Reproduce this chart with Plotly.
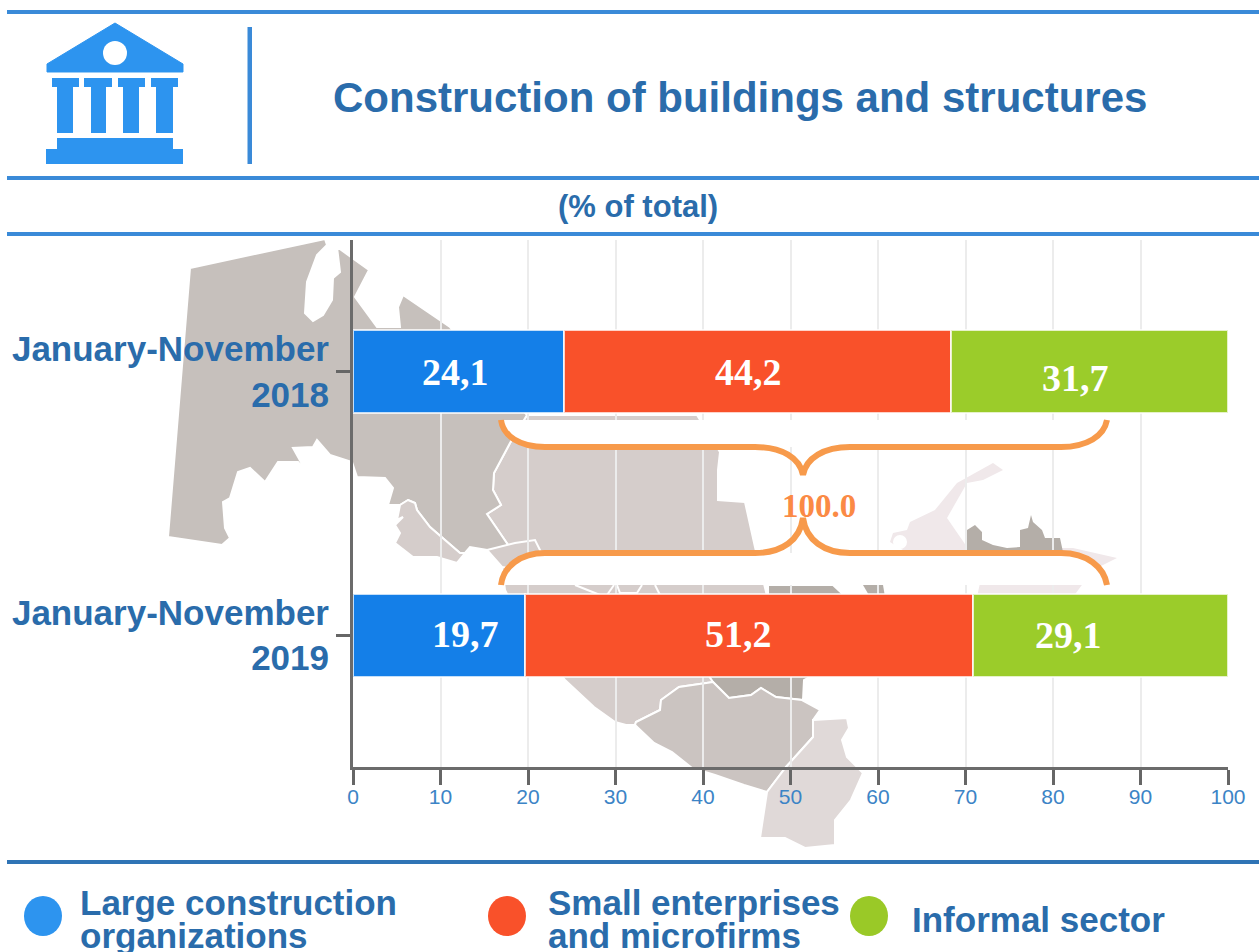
import plotly.graph_objects as go

# ---- chart data ----
periods = ["January-November<br>2018", "January-November<br>2019"]
series_names = ["Large construction<br>organizations", "Small enterprises<br>and microfirms", "Informal sector"]
large = [24.1, 19.7]
small = [44.2, 51.2]
informal = [31.7, 29.1]
title_text = "Construction of buildings and structures"
unit_text = "(% of total)"
total_text = "100.0"
x_ticks = [0, 10, 20, 30, 40, 50, 60, 70, 80, 90, 100]

# ---- style ----
W, H = 1259, 952
ML, MR, MT, MB = 353, 31, 240, 185
BAR_COLORS = ["#147fe8", "#f9512a", "#9bcc2a"]
DOT_COLORS = ["#2d94ef", "#f9512a", "#9ac927"]
RULE = "#3a8ad8"
ICON = "#2d94ef"
TEXT = "#2a6cab"
ORANGE = "#f79a4b"
SANS = "Liberation Sans, Arial, sans-serif"
SERIF = "Liberation Serif, Times New Roman, serif"


def X(v):
    return round((v - ML) / (W - ML - MR), 5)


def Y(v):
    return round(1 - (v - MT) / (H - MT - MB), 5)


def poly(points, fill, line="#ffffff", width=2, layer="below"):
    d = "M " + " L ".join(f"{X(a)},{Y(b)}" for a, b in points) + " Z"
    return dict(type="path", xref="paper", yref="paper", path=d, fillcolor=fill,
                line=dict(color=line, width=width), layer=layer)


def polyline(points, color="#ffffff", width=2):
    d = "M " + " L ".join(f"{X(a)},{Y(b)}" for a, b in points)
    return dict(type="path", xref="paper", yref="paper", path=d, fillcolor="rgba(0,0,0,0)",
                line=dict(color=color, width=width), layer="below")


def curve(segments, fill=None, line=None, width=0, close=False):
    start, rest = segments[0], segments[1:]
    d = f"M {X(start[0])},{Y(start[1])}"
    for s in rest:
        if len(s) == 2:
            d += f" L {X(s[0])},{Y(s[1])}"
        else:
            d += (f" C {X(s[0])},{Y(s[1])} {X(s[2])},{Y(s[3])} {X(s[4])},{Y(s[5])}")
    if close:
        d += " Z"
    return dict(type="path", xref="paper", yref="paper", path=d,
                fillcolor=fill if fill else "rgba(0,0,0,0)",
                line=dict(color=line if line else "rgba(0,0,0,0)", width=width), layer="above")


def rect(x0, y0, x1, y1, fill, layer="above"):
    return dict(type="rect", xref="paper", yref="paper", x0=X(x0), x1=X(x1), y0=Y(y0), y1=Y(y1),
                fillcolor=fill, line=dict(width=0), layer=layer)


def circle(cx, cy, rx, ry, fill, layer="above"):
    return dict(type="circle", xref="paper", yref="paper", x0=X(cx - rx), x1=X(cx + rx),
                y0=Y(cy - ry), y1=Y(cy + ry), fillcolor=fill, line=dict(width=0), layer=layer)


shapes = []

# ---- decorative map behind the plot ----
MAP_DARK, MAP_MID, MAP_LIGHT, MAP_PALE, MAP_SLATE, MAP_PINK = \
    "#c6c0bc", "#d5cdcb", "#cbc4c1", "#e0d9d8", "#b4aea8", "#f0e8ea"
central = [(527, 415), (697, 415), (720, 452), (718, 470), (718, 500), (745, 502), (755, 547), (768, 600),
           (767, 680), (713, 682), (679, 687), (661, 700), (660, 710), (636, 722), (635, 725), (626, 725),
           (615, 722), (594, 707), (565, 680), (530, 640), (505, 590), (502, 567), (515, 555), (487, 514),
           (501, 505), (493, 490), (494, 473), (510, 443)]
shapes.append(poly(central, MAP_MID))
shapes.append(polyline([(575, 585), (600, 595)]))
shapes.append(polyline([(607, 595), (614, 585)]))
shapes.append(polyline([(617, 585), (620, 593), (637, 593), (642, 585)]))
shapes.append(polyline([(655, 585), (660, 595)]))
west = [(190, 268), (325, 239), (327, 245), (317, 255), (307, 282), (305, 313), (313, 321), (323, 315),
        (332, 300), (333, 278), (340, 272), (337, 247), (369, 270), (355, 297), (377, 327), (400, 327),
        (398, 307), (403, 295), (450, 327), (527, 415), (510, 443), (494, 473), (493, 490), (501, 505),
        (487, 514), (515, 555), (502, 567), (487, 550), (470, 547), (465, 553), (460, 553), (430, 527),
        (417, 510), (415, 503), (408, 500), (400, 505), (388, 505), (393, 488), (385, 478), (357, 477),
        (352, 462), (330, 455), (317, 440), (313, 447), (293, 448), (307, 473), (298, 462), (278, 462),
        (265, 482), (250, 468), (238, 472), (230, 498), (223, 502), (225, 528), (230, 538), (222, 545),
        (168, 537)]
shapes.append(poly(west, MAP_DARK))
strip = [(408, 500), (415, 503), (417, 510), (430, 527), (460, 553), (465, 553), (457, 563), (437, 557),
         (413, 557), (395, 543), (400, 533), (395, 525), (403, 517), (397, 520), (400, 505)]
shapes.append(poly(strip, MAP_MID))
shapes.append(poly([(487, 550), (515, 543), (535, 540), (545, 560), (520, 570), (502, 567)], MAP_MID))
shapes.append(poly([(768, 585), (833, 585), (860, 610), (860, 650), (804, 680), (803, 700), (776, 697),
                    (761, 688), (751, 695), (729, 698), (719, 688), (713, 682), (705, 670), (768, 670)],
                   MAP_SLATE))
shapes.append(poly([(635, 725), (636, 722), (660, 710), (661, 700), (679, 687), (713, 682), (719, 688),
                    (729, 698), (751, 695), (761, 688), (776, 697), (802, 700), (820, 710), (813, 720),
                    (813, 737), (795, 757), (786, 767), (767, 792), (744, 785), (715, 775), (692, 768),
                    (672, 752), (654, 743)], MAP_LIGHT))
shapes.append(poly([(813, 720), (847, 718), (849, 728), (842, 740), (847, 757), (863, 773), (851, 800),
                    (835, 820), (835, 845), (805, 848), (785, 838), (760, 838), (765, 805), (767, 792),
                    (786, 767), (795, 757), (813, 737)], MAP_PALE))
shapes.append(poly([(993, 463), (1003, 470), (983, 480), (967, 483), (947, 518), (967, 547), (975, 560),
                    (915, 560), (903, 550), (890, 542), (893, 533), (907, 530),
                    (910, 522), (935, 510), (957, 483), (975, 473)], MAP_PINK, width=0))
shapes.append(circle(900, 542, 7, 7, "#ffffff", layer="below"))
shapes.append(poly([(1000, 548), (1073, 548), (1117, 558), (1103, 565), (1093, 570), (1073, 597), (977, 597),
                    (985, 560)], MAP_PINK, width=0))
shapes.append(poly([(967, 530), (975, 525), (982, 532), (982, 540), (993, 545), (1007, 548), (1020, 547),
                    (1020, 530), (1028, 528), (1031, 515), (1033, 522), (1042, 530), (1045, 538),
                    (1060, 538), (1063, 552), (967, 552)], MAP_SLATE, width=0))
shapes.append(poly([(863, 585), (883, 585), (885, 597), (870, 597)], MAP_SLATE, width=0))

# ---- header, rules and icon ----
for y_rule, c, th in [(12, RULE, 4), (178, RULE, 4), (234, RULE, 4), (862, "#2f74b5", 4)]:
    shapes.append(rect(7, y_rule - th / 2, W, y_rule + th / 2, c))
shapes.append(rect(247.5, 27, 252, 164, RULE))
shapes.append(poly([(115, 23), (183, 64), (183, 72), (47, 72), (47, 64)], ICON, line=ICON, width=1, layer="above"))
shapes.append(circle(115, 53, 12, 12, "#ffffff"))
for cap0, cap1, sh0, sh1 in [(52, 79, 57, 73), (84, 112, 91, 106), (118, 145, 123, 139), (151, 178, 156, 173)]:
    shapes.append(rect(cap0, 78, cap1, 87, ICON))
    shapes.append(rect(sh0, 87, sh1, 133, ICON))
shapes.append(rect(57, 138, 173, 150, ICON))
shapes.append(rect(46, 149, 183, 164, ICON))

# ---- braces ----
top_brace = [(501, 420), (503, 436, 520, 447, 545, 447), (755, 447), (782, 447, 800, 458, 803, 475),
             (806, 458, 824, 447, 850, 447), (1061, 447), (1087, 447, 1104, 436, 1107, 420)]
low_brace = [(501, 585), (503, 567, 520, 553, 545, 553), (755, 553), (782, 553, 800, 540, 803, 518),
             (806, 540, 824, 553, 850, 553), (1061, 553), (1087, 553, 1104, 567, 1107, 585)]
shapes.append(curve([top_brace[0], top_brace[1], top_brace[2], top_brace[5], top_brace[6]], fill="#ffffff", close=True))
shapes.append(curve([low_brace[0], low_brace[1], low_brace[2], low_brace[5], low_brace[6]], fill="#ffffff", close=True))
shapes.append(curve(top_brace, line=ORANGE, width=6))
shapes.append(curve(low_brace, line=ORANGE, width=6))

# ---- legend dots ----
for cx, c in zip([43, 507, 869], DOT_COLORS):
    shapes.append(circle(cx, 916, 19, 20, c))

fig = go.Figure()
plain_names = [n.replace("<br>", " ") for n in series_names]
for name, vals, c in zip(plain_names, [large, small, informal], BAR_COLORS):
    fig.add_trace(go.Bar(y=periods, x=vals, name=name, orientation="h", width=0.314,
                         marker=dict(color=c, line=dict(color="rgba(255,255,255,0.75)", width=2)),
                         showlegend=False))

annotations = []


def label(px, py, text, size, color, bold=True, family=SANS, anchor="center"):
    annotations.append(dict(xref="paper", yref="paper", x=X(px), y=Y(py), text=f"<b>{text}</b>" if bold else text,
                            showarrow=False, xanchor=anchor, yanchor="middle",
                            font=dict(size=size, color=color, family=family)))


label(740, 98, title_text, 42, TEXT)
label(638, 207, unit_text, 31, TEXT)
label(819, 506, total_text, 33, "#fb8a45", family=SERIF)

# value labels: anchored on bar centres, with the reference's off-centre shifts
label_shifts = [[-3, -9, -14], [26, -11, -32]]
label_dy = [[0, 0, 6], [-1, -1, 0]]
for i, p in enumerate(periods):
    left = 0
    for j, vals in enumerate([large, small, informal]):
        annotations.append(dict(x=left + vals[i] / 2, y=p, xref="x", yref="y",
                                text=f"<b>{str(vals[i]).replace('.', ',')}</b>", showarrow=False,
                                xshift=label_shifts[i][j], yshift=-label_dy[i][j],
                                font=dict(size=38, color="#ffffff", family=SERIF)))
        left += vals[i]

# legend text, one annotation per line
legend_pos = [(78, [903, 936]), (546, [903, 936]), (910, [919])]
for name, (lx, ys) in zip(series_names, legend_pos):
    for line_text, ly in zip(name.split("<br>"), ys):
        label(lx, ly, line_text, 35, TEXT, anchor="left")

fig.update_layout(
    width=W, height=H, autosize=False, barmode="stack", bargap=0,
    margin=dict(l=ML, r=MR, t=MT, b=MB, pad=0),
    paper_bgcolor="#ffffff", plot_bgcolor="rgba(0,0,0,0)",
    showlegend=False, shapes=shapes, annotations=annotations,
    xaxis=dict(range=[0, 100], tickvals=x_ticks, ticks="outside", ticklen=15, tickwidth=3,
               tickcolor="#666666", showline=True, linecolor="#6b6b6b", linewidth=3,
               showgrid=True, gridcolor="#ececec", gridwidth=2, zeroline=False, automargin=False,
               ticklabelstandoff=-6, tickfont=dict(size=21, color="#3c84c6", family=SANS)),
    yaxis=dict(type="category", categoryorder="array", categoryarray=periods, range=[1.5, -0.5],
               ticks="outside", ticklen=14, tickwidth=3, tickcolor="#666666", showline=True,
               linecolor="#6b6b6b", linewidth=3, showgrid=False, zeroline=False, automargin=False,
               ticklabelstandoff=0, tickfont=dict(size=35, color=TEXT, family="Liberation Sans, Arial, sans-serif",
                                                  weight="bold")),
)

fig.write_html("out.html", config=dict(displayModeBar=False),
               post_script="document.body.style.margin='0';document.body.style.overflow='hidden';")
